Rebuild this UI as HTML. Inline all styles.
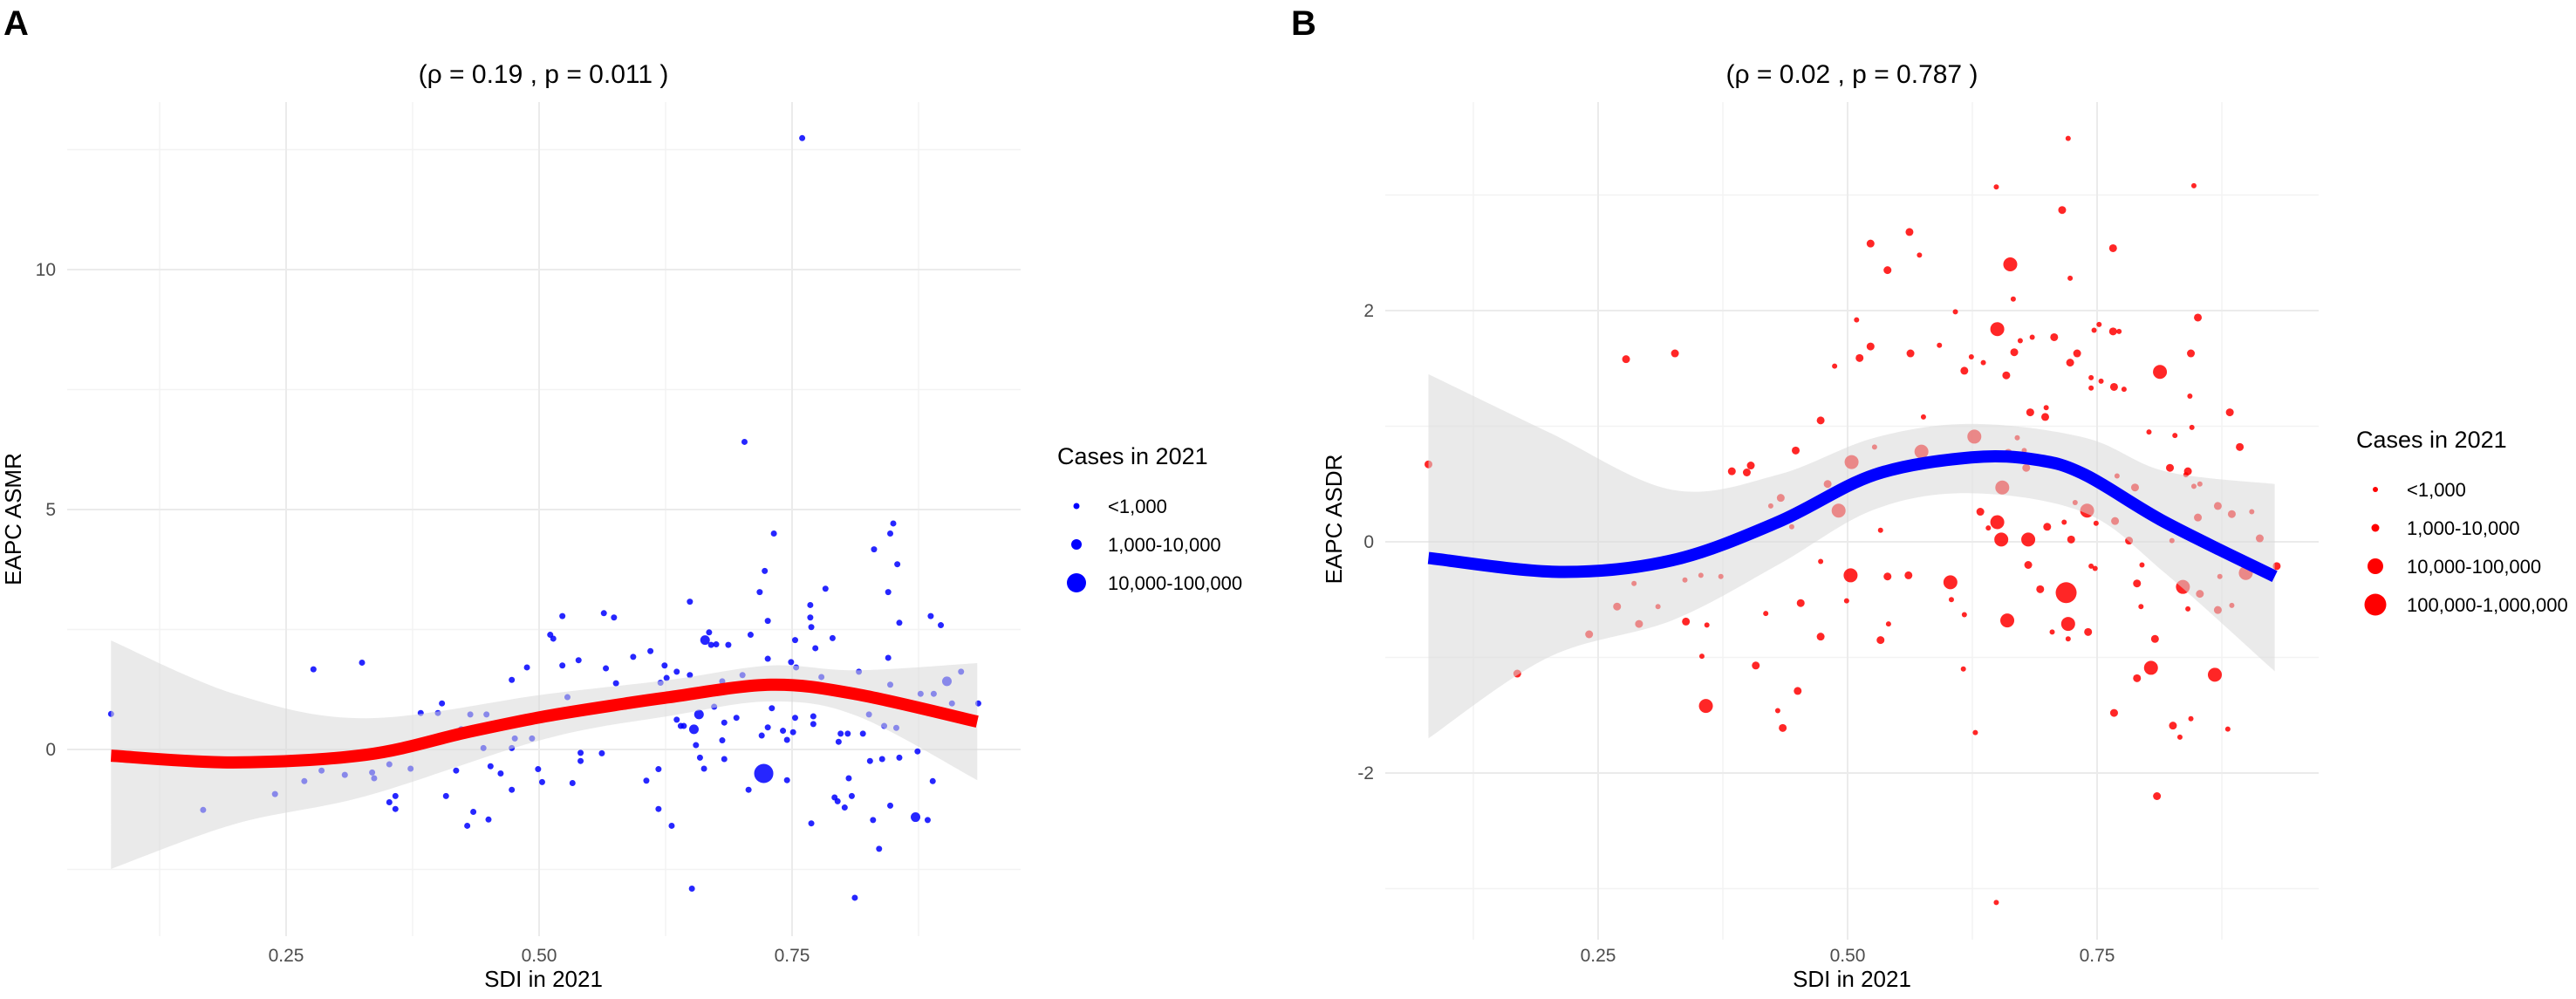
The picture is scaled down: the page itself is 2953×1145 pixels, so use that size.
<!DOCTYPE html>
<html><head><meta charset="utf-8"><style>
html,body{margin:0;padding:0;background:#fff;}
svg{display:block;font-family:"Liberation Sans",Arial,sans-serif;}
</style></head><body>
<svg id="chart" width="2953" height="1145" viewBox="0 0 2953 1145" xmlns="http://www.w3.org/2000/svg">
<g id="pA"></g>
<g id="pB"></g>
</svg>
<script>
// ---------- Panel A data ----------
const aSdi = [0.077,0.760,0.703,0.277,0.325,0.168,0.239,0.268,0.285,0.308,0.335,0.337,0.352,0.352,0.358,0.358,0.373,0.383,0.404,0.400,0.408,0.418,0.423,0.429,0.432,0.448,0.435,0.445,0.450,0.452,0.462,0.472,0.476,0.473,0.473,0.473,0.488,0.493,0.499,0.503,0.504,0.511,0.514,0.523,0.523,0.528,0.533,0.539,0.541,0.541,0.562,0.564,0.574,0.566,0.576,0.593,0.604,0.606,0.610,0.618,0.618,0.620,0.624,0.626,0.631,0.636,0.636,0.640,0.643,0.649,0.649,0.651,0.653,0.655,0.658,0.659,0.663,0.664,0.668,0.670,0.673,0.675,0.681,0.681,0.683,0.683,0.687,0.695,0.701,0.707,0.709,0.718,0.720,0.722,0.723,0.726,0.726,0.726,0.730,0.732,0.741,0.745,0.745,0.749,0.751,0.753,0.753,0.754,0.769,0.768,0.768,0.769,0.771,0.771,0.773,0.779,0.783,0.790,0.792,0.795,0.796,0.798,0.802,0.805,0.806,0.809,0.812,0.816,0.820,0.826,0.827,0.830,0.831,0.836,0.839,0.841,0.845,0.845,0.847,0.847,0.850,0.847,0.853,0.854,0.856,0.856,0.872,0.874,0.877,0.884,0.887,0.889,0.890,0.897,0.903,0.908,0.917,0.934];
const aVal = [0.74,12.74,6.41,1.67,1.81,-1.26,-0.93,-0.66,-0.44,-0.53,-0.48,-0.60,-0.31,-1.10,-0.97,-1.24,-0.40,0.76,0.96,0.76,-0.97,-0.44,0.42,-1.59,0.73,0.73,-1.30,0.03,-1.46,-0.35,-0.50,0.49,0.23,0.03,-0.84,1.45,1.71,0.23,-0.41,-0.68,0.69,2.39,2.31,2.78,1.75,1.09,-0.70,1.86,-0.07,-0.24,-0.08,2.84,2.75,1.69,1.38,1.93,1.02,-0.65,2.05,-0.41,-1.24,1.39,1.75,1.49,-1.59,1.62,0.62,0.49,0.49,3.08,1.55,-2.90,0.42,0.09,0.73,-0.17,-0.40,2.28,2.44,2.18,0.89,2.19,1.42,0.19,-0.20,0.56,2.18,0.66,1.55,-0.84,2.39,3.28,0.29,-0.50,3.72,2.68,1.89,0.46,0.86,4.50,0.39,-0.64,0.20,1.82,0.36,0.66,2.28,1.71,-1.54,3.01,2.75,2.55,0.69,0.53,2.11,1.51,3.35,2.32,-1.00,-1.08,0.16,0.33,-1.21,0.33,-0.60,-0.97,-3.09,1.62,0.33,0.73,-0.24,-1.47,4.17,-2.07,-0.20,0.49,3.28,1.91,1.35,4.50,4.71,-1.17,0.45,3.86,2.64,-0.17,-1.41,-0.04,1.16,-1.47,2.78,-0.66,1.16,2.59,1.42,0.96,1.62,0.96];
const aCls = [0,0,0,0,0,0,0,0,0,0,0,0,0,0,0,0,0,0,0,0,0,0,0,0,0,0,0,0,0,0,0,0,0,0,0,0,0,0,0,0,1,0,0,0,0,0,0,0,0,0,0,0,0,0,0,0,0,0,0,0,0,0,0,0,0,0,0,0,0,0,0,0,1,0,1,0,0,1,0,0,0,0,0,0,0,0,0,0,0,0,0,0,0,2,0,0,0,0,0,0,0,0,0,0,0,0,0,0,0,0,0,0,0,0,0,0,0,0,0,0,0,0,0,0,0,0,0,0,0,0,0,0,0,0,0,0,0,0,0,0,0,0,0,0,0,0,1,0,0,0,0,0,0,0,1,0,0,0];
const aFitX = [0.077,0.198,0.329,0.429,0.506,0.583,0.629,0.729,0.814,0.933];
const aFitY = [-0.13,-0.27,-0.11,0.36,0.69,0.95,1.09,1.35,1.15,0.58];
const aBandX = [0.077,0.2,0.329,0.506,0.629,0.729,0.814,0.933];
const aBandHi = [2.27,1.15,0.65,1.15,1.45,1.75,1.65,1.80];
const aBandLo = [-2.49,-1.55,-0.97,0.22,0.70,1.0,0.70,-0.64];
const aXTicks = [0.25,0.50,0.75];
const aXTickLabels = ["0.25","0.50","0.75"];
const aYTicks = [0,5,10];
const aYTickLabels = ["0","5","10"];
const aLegend = ["<1,000","1,000-10,000","10,000-100,000"];

// ---------- Panel B data ----------
const bSdi = [0.080,0.169,0.241,0.269,0.278,0.286,0.291,0.310,0.327,0.337,0.338,0.353,0.354,0.358,0.359,0.373,0.384,0.399,0.403,0.408,0.418,0.423,0.433,0.430,0.435,0.444,0.448,0.450,0.453,0.473,0.473,0.473,0.480,0.487,0.491,0.499,0.503,0.504,0.509,0.512,0.523,0.523,0.527,0.533,0.533,0.540,0.540,0.541,0.561,0.562,0.563,0.572,0.574,0.576,0.592,0.603,0.604,0.608,0.616,0.617,0.617,0.624,0.627,0.628,0.633,0.636,0.641,0.649,0.650,0.650,0.649,0.654,0.655,0.659,0.661,0.660,0.663,0.666,0.667,0.670,0.673,0.677,0.679,0.681,0.681,0.683,0.685,0.693,0.698,0.699,0.700,0.705,0.707,0.715,0.717,0.719,0.721,0.721,0.721,0.723,0.723,0.724,0.728,0.730,0.740,0.741,0.744,0.744,0.744,0.747,0.748,0.749,0.752,0.754,0.766,0.766,0.767,0.767,0.768,0.770,0.772,0.777,0.782,0.788,0.790,0.790,0.794,0.795,0.802,0.804,0.808,0.810,0.813,0.823,0.825,0.826,0.828,0.833,0.836,0.839,0.841,0.841,0.843,0.844,0.844,0.845,0.847,0.847,0.851,0.851,0.853,0.853,0.857,0.868,0.871,0.871,0.873,0.881,0.883,0.885,0.885,0.893,0.899,0.905,0.913,0.930];
const bVal = [0.67,-1.14,-0.80,-0.56,1.58,-0.36,-0.71,-0.56,1.63,-0.33,-0.69,-0.29,-0.99,-1.42,-0.72,-0.30,0.61,0.60,0.66,-1.07,-0.62,0.31,0.38,-1.46,-1.61,0.13,0.79,-1.29,-0.53,1.05,-0.17,-0.82,0.50,1.52,0.27,-0.51,-0.29,0.69,1.92,1.59,2.58,1.69,0.82,0.10,-0.85,2.35,-0.30,-0.71,-0.29,2.68,1.63,2.48,0.78,1.08,1.70,-0.35,-0.50,1.99,-1.10,1.48,-0.63,1.60,0.91,-1.65,0.26,1.55,0.12,3.07,1.84,0.17,-3.12,0.02,0.47,1.44,0.77,-0.68,2.40,2.10,1.64,0.90,1.74,0.79,0.64,0.02,-0.20,1.12,1.77,-0.41,1.08,1.16,0.13,-0.78,1.77,2.87,0.17,-0.44,-0.71,-0.84,3.49,2.28,1.55,0.02,0.34,1.63,0.27,-0.78,1.42,1.33,-0.21,1.83,-0.23,0.16,1.88,1.39,2.54,1.82,-1.48,1.34,0.18,0.57,1.82,1.32,0.01,0.47,-0.36,-1.18,-0.56,-0.20,0.95,-1.09,-0.84,-2.20,1.47,0.64,0.01,-1.59,0.92,-1.69,-0.39,0.58,0.61,-0.58,1.26,1.63,-1.53,0.99,3.08,0.48,1.94,0.21,-0.45,0.50,-0.01,-1.15,-0.59,0.31,-0.30,-1.62,1.12,-0.55,0.24,0.82,-0.27,0.26,0.03,-0.21];
const bCls = [1,1,1,1,1,0,1,0,1,0,1,0,0,2,0,0,1,1,1,1,0,0,1,0,1,0,1,1,1,1,0,1,1,0,2,0,2,2,0,1,1,1,0,0,1,1,1,0,1,1,1,0,2,0,0,2,0,0,0,1,0,0,2,0,1,0,0,0,2,2,0,2,2,1,1,2,2,0,1,0,0,0,1,2,1,1,0,1,1,0,1,0,1,1,0,3,2,0,0,0,1,1,0,1,2,1,0,0,0,0,0,0,0,0,1,1,1,1,1,0,0,0,1,1,1,1,0,0,0,2,1,1,2,1,0,1,0,0,2,0,1,0,0,1,0,0,0,0,1,1,1,0,1,2,1,1,0,0,1,0,1,1,2,0,1,1];
const bFitX = [0.080,0.211,0.324,0.430,0.527,0.624,0.689,0.738,0.818,0.928];
const bFitY = [-0.14,-0.26,-0.16,0.17,0.58,0.73,0.71,0.58,0.17,-0.30];
const bBandX = [0.080,0.2,0.324,0.430,0.527,0.624,0.738,0.818,0.928];
const bBandHi = [1.45,0.95,0.45,0.58,0.90,1.02,0.90,0.61,0.50];
const bBandLo = [-1.70,-1.00,-0.68,-0.20,0.28,0.42,0.25,-0.27,-1.12];
const bXTicks = [0.25,0.50,0.75];
const bXTickLabels = ["0.25","0.50","0.75"];
const bYTicks = [-2,0,2];
const bYTickLabels = ["-2","0","2"];
const bLegend = ["<1,000","1,000-10,000","10,000-100,000","100,000-1,000,000"];

const NS = "http://www.w3.org/2000/svg";
function mk(parent, tag, attrs, text){
  const e = document.createElementNS(NS, tag);
  for (const k in attrs) e.setAttribute(k, attrs[k]);
  if (text !== undefined) e.textContent = text;
  parent.appendChild(e);
  return e;
}
function smoothPath(pts){
  let d = "M" + pts[0][0] + "," + pts[0][1];
  for (let i=0;i<pts.length-1;i++){
    const p0=pts[Math.max(0,i-1)], p1=pts[i], p2=pts[i+1], p3=pts[Math.min(pts.length-1,i+2)];
    const c1=[p1[0]+(p2[0]-p0[0])/6, p1[1]+(p2[1]-p0[1])/6];
    const c2=[p2[0]-(p3[0]-p1[0])/6, p2[1]-(p3[1]-p1[1])/6];
    d += " C"+c1[0]+","+c1[1]+" "+c2[0]+","+c2[1]+" "+p2[0]+","+p2[1];
  }
  return d;
}
function bandPath(xs, hi, lo, sx, sy){
  const up = xs.map((x,i)=>[sx(x), sy(hi[i])]);
  const dn = xs.map((x,i)=>[sx(x), sy(lo[i])]).reverse();
  let d = smoothPath(up);
  d += " L" + dn[0][0] + "," + dn[0][1] + smoothPath(dn).replace(/^M[^ ]+/, "") + " Z";
  return d;
}

function drawPanel(g, cfg){
  const sx = v => cfg.x0 + (v - 0.25) * cfg.xs;
  const sy = v => cfg.y0 - v * cfg.ys;
  cfg.xMinor.forEach(v=>{
    const l = mk(g,"line",{x1:sx(v),x2:sx(v),y1:cfg.top,y2:cfg.bot,stroke:"#f3f3f3","stroke-width":1.5});
    
    
  });
  cfg.yMinor.forEach(v=>{
    const l = mk(g,"line",{x1:cfg.left,x2:cfg.right,y1:sy(v),y2:sy(v),stroke:"#f3f3f3","stroke-width":1.5});
    
    
  });
  cfg.xTicks.forEach((v,i)=>{
    const l = mk(g,"line",{x1:sx(v),x2:sx(v),y1:cfg.top,y2:cfg.bot,stroke:"#ebebeb","stroke-width":2});
    
    
    const t = mk(g,"text",{x:sx(v),y:1102,"text-anchor":"middle","font-size":21,fill:"#4d4d4d"},cfg.xLabels[i]);
    
    
  });
  cfg.yTicks.forEach((v,i)=>{
    const l = mk(g,"line",{x1:cfg.left,x2:cfg.right,y1:sy(v),y2:sy(v),stroke:"#ebebeb","stroke-width":2});
    
    
    const t = mk(g,"text",{x:cfg.left-13,y:sy(v)+7,"text-anchor":"end","font-size":21,fill:"#4d4d4d"},cfg.yLabels[i]);
    
    
  });
  cfg.sdi.forEach((s,i)=>{
    const c = mk(g,"circle",{cx:sx(s),cy:sy(cfg.val[i]),r:cfg.radii[cfg.cls[i]],fill:cfg.ptColor,"fill-opacity":0.85});
    
    
  });
  const b = mk(g,"path",{d:bandPath(cfg.bandX,cfg.bandHi,cfg.bandLo,sx,sy),fill:"#d9d9d9","fill-opacity":0.55,stroke:"none"});
  
  
  const f = mk(g,"path",{d:smoothPath(cfg.fitX.map((x,i)=>[sx(x),sy(cfg.fitY[i])])),fill:"none",stroke:cfg.lineColor,"stroke-width":14,"stroke-linecap":"butt"});
  
  
  const ti = mk(g,"text",{x:cfg.titleX,y:95,"text-anchor":"middle","font-size":30,fill:"#000"},cfg.title);
  
  
  const xt = mk(g,"text",{x:cfg.titleX,y:1131,"text-anchor":"middle","font-size":26,fill:"#000"},"SDI in 2021");
  
  
  const yt = mk(g,"text",{x:cfg.yTitleX,y:595,"text-anchor":"middle","font-size":26,fill:"#000",transform:"rotate(-90 "+cfg.yTitleX+" 595)"},cfg.yTitle);
  
  
  const pl = mk(g,"text",{x:cfg.labelX,y:40,"font-size":40,"font-weight":"bold",fill:"#000"},cfg.label);
  
  
  const lt = mk(g,"text",{x:cfg.legX,y:cfg.legY,"font-size":27,fill:"#000"},"Cases in 2021");
  
  
  cfg.legend.forEach((lab,i)=>{
    const yy = cfg.legY + 48 + i*44;
    const c = mk(g,"circle",{cx:cfg.legX+22,cy:yy,r:cfg.legR[i],fill:cfg.ptColor});
    
    
    const t = mk(g,"text",{x:cfg.legX+58,y:yy+8,"font-size":22,fill:"#000"},lab);
    
    
  });
}

drawPanel(document.getElementById("pA"),{
  x0:328,xs:1160,y0:859,ys:55,left:77,right:1170,top:117,bot:1073,
  xTicks:aXTicks,xLabels:aXTickLabels,yTicks:aYTicks,yLabels:aYTickLabels,
  xMinor:[0.125,0.375,0.625,0.875],yMinor:[-2.5,2.5,7.5,12.5],
  sdi:aSdi,val:aVal,cls:aCls,radii:[3.5,5.5,11],ptColor:"#0000ff",lineColor:"#ff0000",
  fitX:aFitX,fitY:aFitY,bandX:aBandX,bandHi:aBandHi,bandLo:aBandLo,
  title:"(\u03c1 = 0.19 , p = 0.011 )",titleX:623,yTitle:"EAPC ASMR",yTitleX:24,label:"A",labelX:4,
  legend:aLegend,legX:1212,legY:532,legR:[3.5,6,11]
});
drawPanel(document.getElementById("pB"),{
  x0:1832,xs:1144,y0:621,ys:132.5,left:1588,right:2658,top:117,bot:1077,
  xTicks:bXTicks,xLabels:bXTickLabels,yTicks:bYTicks,yLabels:bYTickLabels,
  xMinor:[0.125,0.375,0.625,0.875],yMinor:[-3,-1,1,3],
  sdi:bSdi,val:bVal,cls:bCls,radii:[3,4.5,8,12],ptColor:"#ff0000",lineColor:"#0000ff",
  fitX:bFitX,fitY:bFitY,bandX:bBandX,bandHi:bBandHi,bandLo:bBandLo,
  title:"(\u03c1 = 0.02 , p = 0.787 )",titleX:2123,yTitle:"EAPC ASDR",yTitleX:1538,label:"B",labelX:1480,
  legend:bLegend,legX:2701,legY:513,legR:[3,4.5,9,12.5]
});
</script>
</body></html>
